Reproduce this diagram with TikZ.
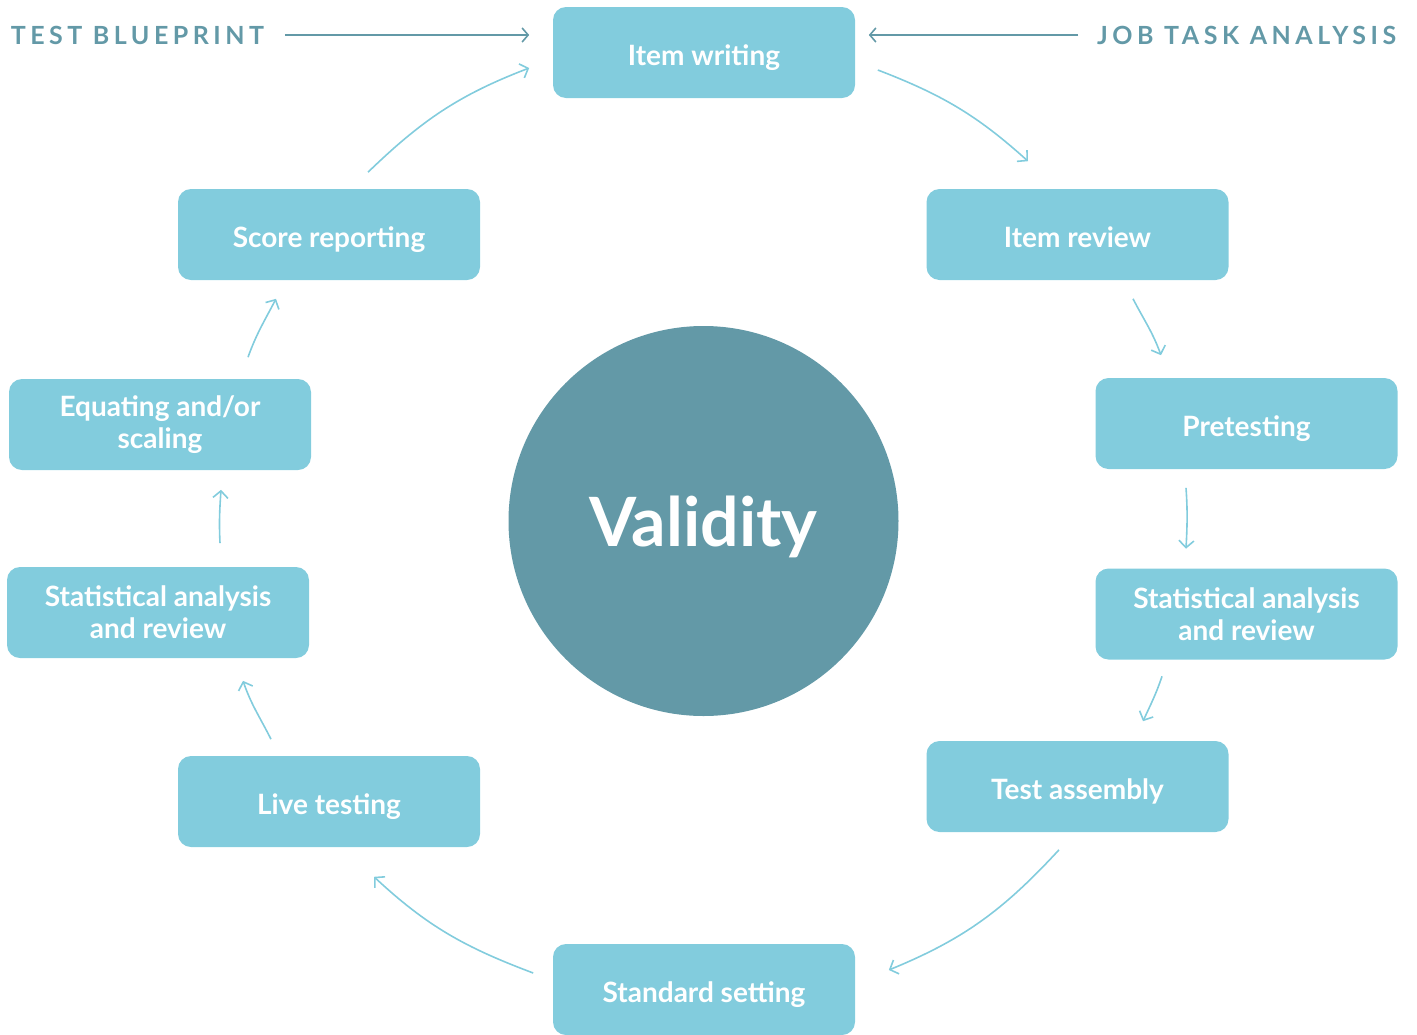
\documentclass[tikz,border=0pt]{standalone}
\usepackage{fontspec}
\setmainfont{Lato}
\newfontfamily\spacedfont[LetterSpace=18]{Lato}
\usepackage{tikz}
\usetikzlibrary{arrows.meta}
\definecolor{boxblue}{HTML}{82CCDD}
\definecolor{validteal}{HTML}{6399A7}

\begin{document}
\begin{tikzpicture}[x=1pt,y=1pt,line width=1.6pt,->,>={Straight Barb[length=7pt,width=15pt]}]
  \tikzstyle{box}=[rectangle, rounded corners=13pt, fill=boxblue, text=white,
minimum width=302pt, minimum height=91pt, align=center, inner sep=0pt,
font=\fontsize{28}{32}\selectfont\bfseries]
  \tikzstyle{onebox}=[box, text height=25pt, text depth=0pt]
  \tikzstyle{head}=[text=validteal, inner sep=0pt, font=\spacedfont\fontsize{25}{30}\selectfont\bfseries]
  \tikzstyle{flow}=[draw=boxblue]
  \useasboundingbox (0,0) rectangle (1417,-1034);
  \node[circle, fill=validteal, minimum size=390pt, text=white, text depth=0pt,
font=\fontsize{68}{80}\selectfont\bfseries] (V) at (703.5,-521) {Validity};
  \node[onebox] (S_1) at (704,-52.5) {Item writing};
  \node[onebox] (S_2) at (1077.5,-234.5) {Item review};
  \node[onebox] (S_3) at (1246.5,-423.5) {Pretesting};
  \node[box] (S_4) at (1246.5,-614) {Statistical analysis\\and review};
  \node[onebox] (S_5) at (1077.5,-786.5) {Test assembly};
  \node[onebox] (S_6) at (704,-989.5) {Standard setting};
  \node[onebox] (S_7) at (329,-801.5) {Live testing};
  \node[box] (S_8) at (158,-612.5) {Statistical analysis\\and review};
  \node[box] (S_9) at (160,-424.5) {Equating and/or\\scaling};
  \node[onebox] (S_10) at (329,-234.5) {Score reporting};
  \node[head, anchor=west] (L_1) at (10,-35) {TEST BLUEPRINT};
  \node[head, anchor=east] (L_2) at (1397,-35) {JOB TASK ANALYSIS};
  \draw[validteal, >={Straight Barb[length=6pt,width=14pt]}] ([xshift=20pt]L_1.east) -- ([shift={(-23,17.5)}]S_1.west);
  \draw[validteal, >={Straight Barb[length=6pt,width=14pt]}] ([xshift=-18pt]L_2.west) -- ([shift={(13,17.5)}]S_1.east);
  \draw[flow] ([shift={(22,-17.5)}]S_1.east) to[out=-21,in=138] ([shift={(-49.5,27)}]S_2.north);
  \draw[flow] ([shift={(55.5,-18)}]S_2.south) to[out=-62.5,in=110] ([shift={(-85.5,22)}]S_3.north);
  \draw[flow] ([shift={(-60.5,-18)}]S_3.south) to[out=-86,in=87] ([shift={(-60.5,19)}]S_4.north);
  \draw[flow] ([shift={(-84.5,-16)}]S_4.south) to[out=-108.5,in=65.4] ([shift={(65.5,19)}]S_5.north);
  \draw[flow] ([shift={(-18.5,-17)}]S_5.south) to[out=-132.7,in=22.3] ([shift={(33,19.5)}]S_6.east);
  \draw[flow] ([shift={(-19,16.5)}]S_6.west) to[out=159.4,in=-42.9] ([shift={(45,-29)}]S_7.south);
  \draw[flow] ([shift={(-58,16)}]S_7.north) to[out=116.8,in=-71] ([shift={(85,-22)}]S_8.south);
  \draw[flow] ([shift={(62,23)}]S_8.north) to[out=92.7,in=-93.9] ([shift={(61,-19)}]S_9.south);
  \draw[flow] ([shift={(88,21)}]S_9.north) to[out=70.2,in=-117.5] ([shift={(-53,-18)}]S_10.south);
  \draw[flow] ([shift={(39,16)}]S_10.north) to[out=44,in=-159] ([shift={(-23,-15.5)}]S_1.west);
\end{tikzpicture}
\end{document}
